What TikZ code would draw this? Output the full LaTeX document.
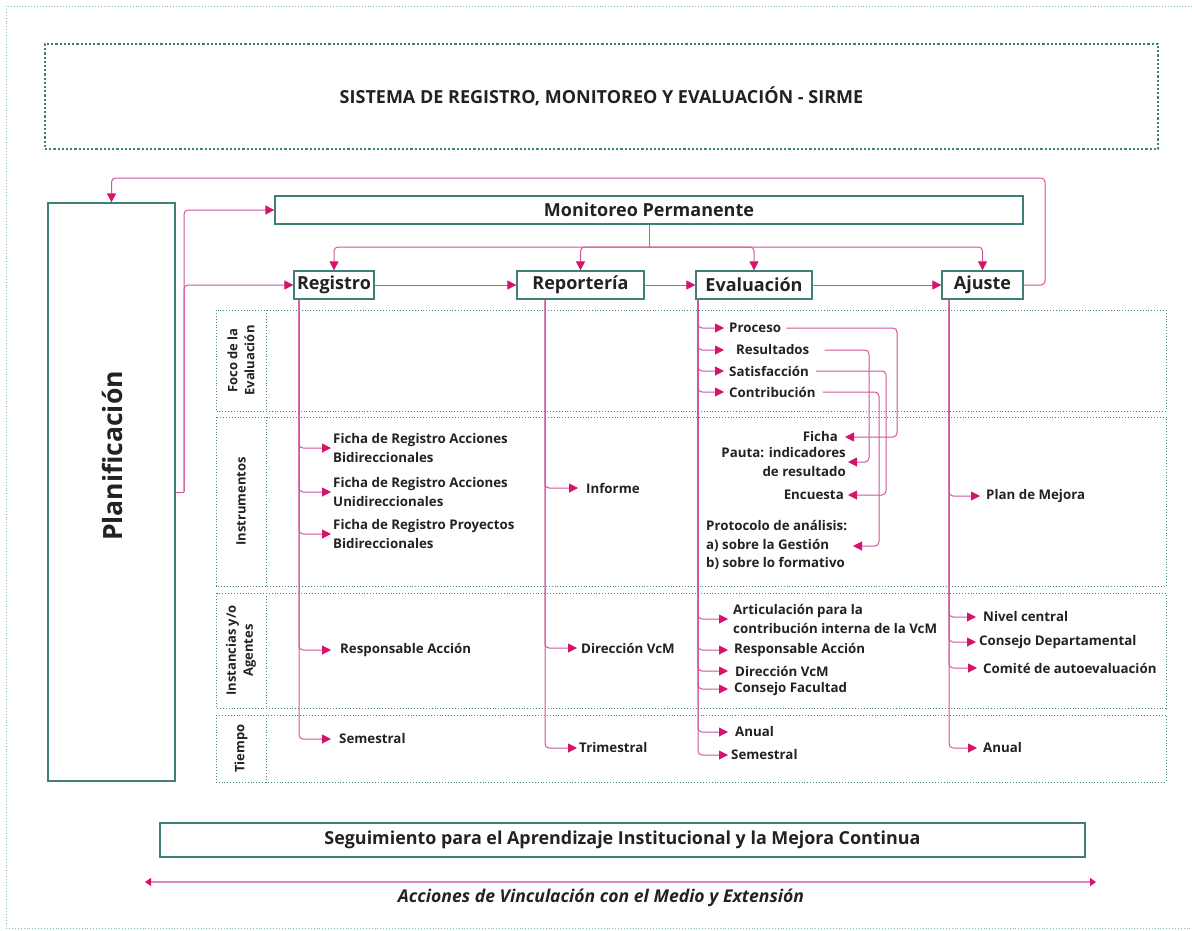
\documentclass[tikz,border=0pt]{standalone}
\usepackage{fontspec}
\setmainfont{Open Sans}
\usetikzlibrary{arrows.meta,calc}
\definecolor{tealbox}{HTML}{3E7F78}
\definecolor{tealrow}{HTML}{3F8580}
\definecolor{tealout}{HTML}{7BBFBB}
\definecolor{linkc}{HTML}{D0559A}
\definecolor{tipc}{HTML}{D6136B}
\definecolor{txt}{HTML}{222222}
\newcommand{\lblfont}{\fontsize{13.3}{18.8}\selectfont\bfseries}
\newcommand{\hdfont}{\fontsize{18}{21}\selectfont\bfseries}
\newcommand{\rowfont}{\fontsize{13}{17}\selectfont\bfseries}
\tikzset{
  box/.style={draw=tealbox, line width=1.3pt, fill=white, inner sep=0pt, text=txt},
  rowbox/.style={draw=tealrow, dotted, line width=0.9pt},
  lnk/.style={draw=linkc, line width=1pt, rounded corners=4pt, -{Triangle[length=9pt,width=9pt,color=tipc,fill=tipc]}},
  plain/.style={draw=linkc, line width=1pt, rounded corners=4pt},
  lbl/.style={font=\lblfont, text=txt, inner sep=2pt, anchor=west, align=left},
  lblr/.style={font=\lblfont, text=txt, inner sep=2pt, anchor=east, align=right},
  rowlbl/.style={font=\rowfont, text=txt, rotate=90, align=center, inner sep=0pt},
}
\begin{document}
\begin{tikzpicture}[x=1pt,y=-1pt]
\useasboundingbox (0,0) rectangle (1192,930);
% outer border
\draw[tealout, dotted, line width=0.9pt] (1192,6) -- (6,6) -- (6,928) -- (1192,928);
% title
\node[draw=tealbox, dotted, line width=2.2pt, minimum width=1113pt, minimum height=105pt, inner sep=0pt,
  font=\fontsize{18}{21}\selectfont\bfseries, text=txt] (title) at (601.5,96.5)
  {SISTEMA DE REGISTRO, MONITOREO Y EVALUACIÓN - SIRME};

% rows
\foreach \ya/\yb in {310/411, 417/586, 593/708, 715/782}{
  \draw[rowbox] (216,\ya) rectangle (1166,\yb);
  \draw[rowbox] (266,\ya) -- (266,\yb);
}
\node[rowlbl] (rfoco) at (241,360.5) {Foco de la\\Evaluación};
\node[rowlbl] (rinst) at (241,501.5) {Instrumentos};
\node[rowlbl] (ragen) at (241,650.5) {Instancias y/o\\Agentes};
\node[rowlbl] (rtiem) at (241,748.5) {Tiempo};

% main boxes
\node[box, minimum width=127pt, minimum height=578pt] (plan) at (111.5,492) {};
\node[font=\fontsize{26.5}{30}\selectfont\bfseries, text=txt, rotate=90, inner sep=0pt] (plantxt) at (112,456) {Planificación};
\node[box, minimum width=748pt, minimum height=28pt, font=\hdfont] (mon) at (649,210) {Monitoreo Permanente};
\node[box, minimum width=80pt, minimum height=28pt, font=\hdfont] (reg) at (334,285) {Registro};
\node[box, minimum width=127pt, minimum height=28pt, font=\hdfont] (rep) at (580.5,285) {Reportería};
\node[box, minimum width=116pt, minimum height=28pt, font=\hdfont] (eva) at (754,285) {Evaluación};
\node[box, minimum width=81pt, minimum height=28pt, font=\hdfont] (aju) at (982.5,285) {Ajuste};
\node[box, minimum width=925pt, minimum height=34pt, font=\fontsize{17.9}{21}\selectfont\bfseries] (seg) at (622.5,840)
  {Seguimiento para el Aprendizaje Institucional y la Mejora Continua};
\node[font=\fontsize{17.6}{21}\selectfont\bfseries\itshape, text=txt, inner sep=0pt] (acc) at (601,898)
  {Acciones de Vinculación con el Medio y Extensión};

% coordinates
\coordinate (pj) at (184,492);
\coordinate (loop) at (1045,178);
\coordinate (mj) at (649,247);
\coordinate (tr) at (299,0);
\coordinate (tp) at (545,0);
\coordinate (te) at (698,0);
\coordinate (ta) at (949,0);

% top-level connectors
\draw[lnk] (aju.east) -| (loop) -| (plan.north);
\draw[plain] (plan.east) -- (pj);
\draw[lnk] (pj) |- (mon.west);
\draw[lnk] (pj) |- (reg.west);
\draw[plain] (mon.south) -- (mj);
\draw[lnk] (mj) -| (reg.north);
\draw[lnk] (mj) -| (rep.north);
\draw[lnk] (mj) -| (eva.north);
\draw[lnk] (mj) -| (aju.north);
\draw[lnk] (reg.east) -- (rep.west);
\draw[lnk] (rep.east) -- (eva.west);
\draw[lnk] (eva.east) -- (aju.west);

% Registro column
\node[lbl] (r1) at (331,448) {Ficha de Registro Acciones\\Bidireccionales};
\node[lbl] (r2) at (331,492) {Ficha de Registro Acciones\\Unidireccionales};
\node[lbl] (r3) at (331,534) {Ficha de Registro Proyectos\\Bidireccionales};
\node[lbl, inner xsep=9pt] (r4) at (331,650) {Responsable Acción};
\node[lbl, inner xsep=8pt] (r5) at (331,739) {Semestral};
\foreach \n in {r1,r2,r3,r4,r5}{ \draw[lnk] (reg.south -| tr) |- (\n.west); }

% Reporteria column
\node[lbl, inner xsep=8pt] (p1) at (578,488) {Informe};
\node[lbl, inner xsep=4pt] (p2) at (577,648) {Dirección VcM};
\node[lbl, inner xsep=2pt] (p3) at (577,748) {Trimestral};
\foreach \n in {p1,p2,p3}{ \draw[lnk] (rep.south -| tp) |- (\n.west); }

% Evaluacion column
\draw[linkc, line width=2.2pt] (eva.south -| te) -- (698,585);
\node[lbl, inner xsep=5pt] (e1) at (724,328) {Proceso};
\node[lbl, inner xsep=12pt] (e2) at (724,350) {Resultados};
\node[lbl, inner xsep=5pt] (e3) at (724,371) {Satisfacción};
\node[lbl, inner xsep=5pt] (e4) at (724,392) {Contribución};
\node[lbl, inner xsep=5pt] (e5) at (728,619) {Articulación para la\\contribución interna de la VcM};
\node[lbl, inner xsep=6pt] (e6) at (728,650) {Responsable Acción};
\node[lbl, inner xsep=7pt] (e7) at (728,671) {Dirección VcM};
\node[lbl, inner xsep=6pt] (e8) at (728,689) {Consejo Facultad};
\node[lbl, inner xsep=7pt] (e9) at (728,732) {Anual};
\node[lbl, inner xsep=3pt] (e10) at (728,755) {Semestral};
\foreach \n in {e1,e2,e3,e4,e5,e6,e7,e8,e9,e10}{ \draw[lnk] (eva.south -| te) |- (\n.west); }

\node[lblr, inner xsep=7pt] (i1) at (845,437) {Ficha};
\node[lblr] (i2) at (848,462) {Pauta: indicadores\\de resultado};
\node[lblr, inner xsep=4pt] (i3) at (848,495) {Encuesta};
\node[lbl] (i4) at (704,545) {Protocolo de análisis:\\a) sobre la Gestión\\b) sobre lo formativo};
\coordinate (pa) at (853,546);
\coordinate (v1) at (897,0);
\coordinate (v2) at (869,0);
\coordinate (v3) at (886,0);
\coordinate (v4) at (879,0);
\draw[lnk] (e1.east) -- (e1.east -| v1) -- (i1.east -| v1) -- (i1.east);
\draw[lnk] ($(e2.east)+(3,0)$) -- (e2.east -| v2) -- (i2.east -| v2) -- (i2.east);
\draw[lnk] ($(e3.east)+(2,0)$) -- (e3.east -| v3) -- (i3.east -| v3) -- (i3.east);
\draw[lnk] ($(e4.east)+(2,0)$) -- (e4.east -| v4) -- (pa -| v4) -- (pa);

% Ajuste column
\node[lbl, inner xsep=6pt] (a1) at (980,496) {Plan de Mejora};
\node[lbl, inner xsep=7pt] (a2) at (976,617) {Nivel central};
\node[lbl, inner xsep=3pt] (a3) at (976,642) {Consejo Departamental};
\node[lbl, inner xsep=6pt] (a4) at (977,668) {Comité de autoevaluación};
\node[lbl, inner xsep=6pt] (a5) at (977,748) {Anual};
\foreach \n in {a1,a2,a3,a4,a5}{ \draw[lnk] (aju.south -| ta) |- (\n.west); }

% bottom double arrow
\coordinate (bl) at (145,882);
\coordinate (br) at (1096,882);
\draw[draw=linkc!70, line width=1.2pt, {Triangle[length=6pt,width=8pt,color=tipc,fill=tipc]}-{Triangle[length=6pt,width=8pt,color=tipc,fill=tipc]}] (bl) -- (br);
\end{tikzpicture}
\end{document}
